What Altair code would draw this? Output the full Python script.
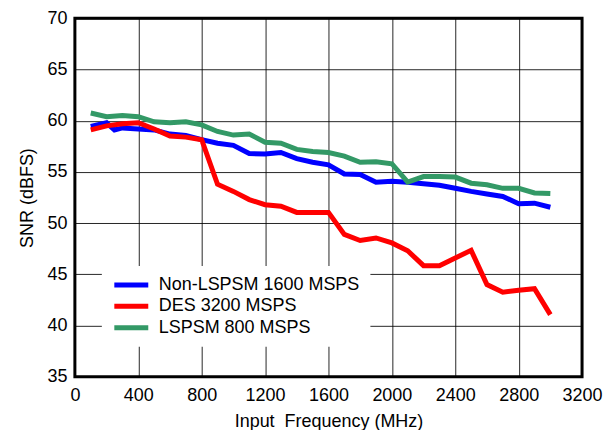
import altair as alt
import pandas as pd

freq = [100, 200, 300, 400, 500, 600, 700, 800, 900, 1000, 1100, 1200, 1300, 1400, 1500,
        1600, 1700, 1800, 1900, 2000, 2100, 2200, 2300, 2400, 2500, 2600, 2700, 2800, 2900, 3000]

blue_freq = [100, 200, 250, 300, 400, 500, 600, 700, 800, 900, 1000, 1100, 1200, 1300, 1400, 1500,
             1600, 1700, 1800, 1900, 2000, 2100, 2200, 2300, 2400, 2500, 2600, 2700, 2800, 2900, 3000]
blue = [59.45, 59.8, 59.1, 59.3, 59.2, 59.1, 58.7, 58.55, 58.15, 57.8, 57.6, 56.8, 56.75, 56.9, 56.3, 55.95,
        55.7, 54.8, 54.75, 54.0, 54.1, 54.0, 53.85, 53.7, 53.4, 53.1, 52.85, 52.6, 51.9, 51.95, 51.55]

red = [59.1, 59.5, 59.7, 59.8, 59.2, 58.5, 58.4, 58.15, 53.8, 53.1, 52.3, 51.8, 51.65, 51.05, 51.05,
       51.05, 48.9, 48.3, 48.55, 48.07, 47.3, 45.85, 45.85, 46.6, 47.35, 44.0, 43.25, 43.45, 43.6, 41.07]

green = [60.75, 60.4, 60.5, 60.4, 59.9, 59.8, 59.9, 59.6, 58.95, 58.6, 58.7, 57.9, 57.8, 57.2, 57.0,
         56.9, 56.55, 55.95, 56.0, 55.8, 54.0, 54.55, 54.55, 54.5, 53.9, 53.75, 53.4, 53.4, 52.95, 52.9]

series = ["Non-LSPSM 1600 MSPS", "DES 3200 MSPS", "LSPSM 800 MSPS"]
colors = ["#0000FF", "#FF0000", "#339966"]

x_ticks = [0, 400, 800, 1200, 1600, 2000, 2400, 2800, 3200]
y_ticks = [35, 40, 45, 50, 55, 60, 65, 70]

rows = []
for f, v in zip(blue_freq, blue):
    rows.append({"freq": f, "snr": v, "series": series[0], "ord": 0})
for f, v in zip(freq, red):
    rows.append({"freq": f, "snr": v, "series": series[1], "ord": 1})
for f, v in zip(freq, green):
    rows.append({"freq": f, "snr": v, "series": series[2], "ord": 2})
df = pd.DataFrame(rows)

FONT = "Liberation Sans"

chart = alt.Chart(df).mark_line(strokeWidth=5).encode(
    x=alt.X("freq:Q",
            scale=alt.Scale(domain=[0, 3200], nice=False),
            axis=alt.Axis(values=x_ticks, title="Input\u00a0 Frequency (MHz)", format="d",
                          labelPadding=10, titlePadding=8, ticks=False, domain=False,
                          grid=True, labelFlush=False)),
    y=alt.Y("snr:Q",
            scale=alt.Scale(domain=[35, 70], nice=False, zero=False),
            axis=alt.Axis(values=y_ticks, title="SNR (dBFS)", labelPadding=8,
                          titlePadding=10, ticks=False, domain=False, grid=True,
                          labelFlush=False)),
    color=alt.Color("series:N",
                    scale=alt.Scale(domain=series, range=colors),
                    legend=alt.Legend(title=None, orient="none", legendX=27, legendY=248,
                                      symbolType="stroke", symbolSize=1156,
                                      symbolStrokeWidth=5, clipHeight=18, rowPadding=3.5,
                                      labelOffset=8, labelFontSize=18, labelFont=FONT,
                                      labelColor="#000", fillColor="white", padding=10,
                                      labelLimit=400)),
    detail="series:N",
    order=alt.Order("ord:Q"),
).properties(
    width=508,
    height=359,
    autosize=alt.AutoSizeParams(type="none"),
    padding={"left": 67, "top": 10, "right": 25, "bottom": 53},
).configure_view(
    stroke="#000", strokeWidth=3
).configure_axis(
    gridColor="#000", gridWidth=1, gridOpacity=0.85,
    labelFont=FONT, labelFontSize=18, labelColor="#000",
    titleFont=FONT, titleFontSize=18, titleFontWeight="normal", titleColor="#000",
)

chart.save("out.html", embed_options={"renderer": "svg", "actions": False})
